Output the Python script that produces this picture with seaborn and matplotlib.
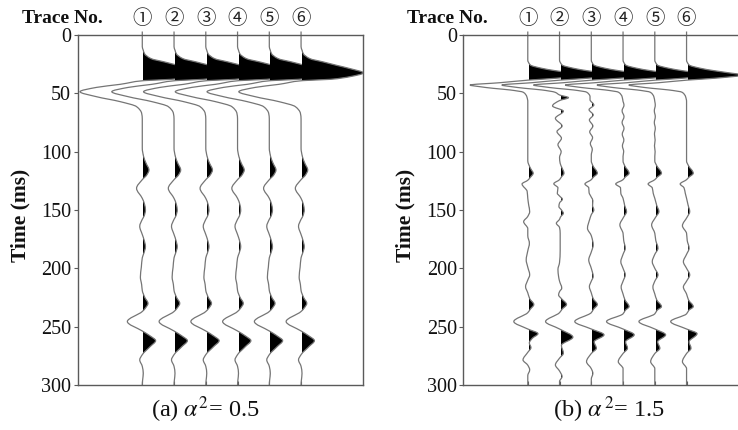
import numpy as np
import matplotlib
matplotlib.use("Agg")
import matplotlib.pyplot as plt
from matplotlib.path import Path
from matplotlib.patches import PathPatch, Rectangle
import seaborn as sns

# ------------------------------------------------------------------ data
trace_numbers = [1, 2, 3, 4, 5, 6]
trace_marks = ["①", "②", "③", "④", "⑤", "⑥"]
time_ticks = [0, 50, 100, 150, 200, 250, 300]
captions = [r"(a) $\alpha^2$= 0.5", r"(b) $\alpha^{\,2}$= 1.5"]

# (a) alpha^2 = 0.5 -- all six traces carry the same waveform
# picked samples: time in ms, amplitude in units of trace spacing
time_a = [-3, 10, 13, 16, 20.3, 23.1, 26, 28.8, 32.5, 35.7, 38, 39.1, 42.3, 44.9,
          48.6, 52.9, 57.1, 61.4, 67.1, 72,
          97, 104, 110, 115.7, 120, 124, 131.4, 140, 145, 150, 155, 158, 164, 171,
          176, 181.4, 187, 191, 199, 207.5, 214, 219, 225, 230, 234, 237, 245.6,
          253.7, 258, 262, 267, 274, 278.5, 284, 290, 296, 300]
amp_a = [0, 0, 0.03, 0.07, 0.28, 0.7, 1.12, 1.54, 1.96, 1.54, 0.92, 0.05, -0.7, -1.44,
         -1.96, -1.44, -0.7, -0.18, -0.02, 0,
         0, 0.04, 0.12, 0.21, 0.14, 0, -0.18, 0, 0.07, 0.1, 0.06, 0, -0.08, 0,
         0.06, 0.1, 0.05, 0, -0.03, -0.06, -0.02, 0, 0.08, 0.18, 0.1, 0, -0.47,
         0, 0.25, 0.42, 0.25, 0, -0.08, 0, 0.03, 0.01, 0]

# (b) alpha^2 = 1.5 -- common first arrival, then each trace's own picks
first_time_b = [-3, 21.4, 25.7, 28.6, 30.6, 32.3, 34.3, 37.1, 38.6, 40.9, 42.9, 44.3,
                45.7, 47.1, 49.1]
first_amp_b = [0, 0, 0.08, 0.45, 0.87, 1.3, 1.75, 0.87, 0.05, -0.88, -1.82, -1.51,
               -1.09, -0.56, -0.14]

time_b1 = [52.9, 57, 108, 111, 115, 118.5, 122, 124.5, 127.7, 134, 140, 146, 151.4,
           155.5, 160, 166, 172, 178.5, 185, 192.8, 199, 205.6, 210, 215.7, 221, 226,
           231, 235, 238, 245.6, 252, 256, 260, 264, 268, 272, 278.5, 283, 287, 292, 300]
amp_b1 = [-0.03, 0, 0, 0.03, 0.1, 0.17, 0.08, 0, -0.18, -0.02, 0, 0.03, 0.06,
          0, -0.13, 0, 0, 0.05, 0, -0.05, 0, 0.06, 0, -0.07, 0, 0.06,
          0.19, 0.08, 0, -0.44, 0, 0.32, 0.14, 0.05, 0.1, 0, -0.15, 0, 0.06, 0, 0]

time_b2 = [51.4, 53.7, 56.2, 60.8, 65.3, 71.4, 78, 82.8, 88.5, 94, 100, 105, 110, 114,
           118.5, 122, 124, 127.5, 131, 135.7, 138, 140.8, 144, 147, 150, 152.8, 156,
           158, 161.4, 165, 170, 185, 195, 201, 207, 211, 217, 220, 222.8, 226, 231,
           235, 238, 245.6, 252, 259, 266, 272.8, 277, 282.8, 288, 292.8, 297, 300]
amp_b2 = [0, 0.28, 0, -0.22, 0.12, -0.13, 0.08, -0.08, 0.06, -0.05, 0.05, 0, 0.02, 0.08,
          0.14, 0.05, 0, -0.18, -0.05, -0.07, 0, 0.09, 0, -0.02, 0.06, 0.12, 0.03,
          0, -0.1, 0, 0.02, 0.02, 0, -0.05, -0.03, 0, 0.07, 0, -0.03, 0.06, 0.22,
          0.08, 0, -0.44, 0, 0.42, 0.06, 0.12, 0, -0.13, 0, 0.08, 0, 0]

time_b3 = [52.9, 55.5, 60, 64, 68.5, 72.8, 78, 83, 88, 93, 98, 103, 108, 112, 118.5,
           122, 124, 127.7, 131, 135, 139, 142, 146, 150, 154, 158, 165.7, 172, 180,
           186, 192.8, 200, 207, 211, 215.7, 221, 226, 231, 235, 238, 245.6, 252, 257,
           263, 268.5, 273, 280, 286, 290, 295, 300]
amp_b3 = [-0.04, -0.04, 0.08, -0.07, 0.06, -0.06, 0.05, -0.05, 0.04, -0.03, 0.03, 0, 0, 0.05, 0.19,
          0.06, 0, -0.2, -0.08, -0.07, 0, 0.05, 0.04, 0.08, 0, -0.05, -0.12, 0, 0.06,
          0, -0.08, 0, 0.06, 0, -0.06, 0, 0.06, 0.19, 0.07, 0, -0.52, 0, 0.4,
          0.09, 0.16, 0, -0.15, 0, 0.05, 0, 0]

time_b4 = [52.9, 57, 60, 65, 70, 75, 80, 85, 90, 95, 100, 104, 108, 112, 118.5, 122,
           124, 127.7, 131, 135.7, 140, 146, 151.4, 156, 162.8, 170, 176, 182.8, 188,
           194.3, 200, 205.6, 211, 216, 222, 227, 232.8, 236, 239, 245.6, 252, 257,
           263, 268.5, 273, 280, 286, 300]
amp_b4 = [-0.03, 0, 0.03, -0.03, 0.03, -0.03, 0.03, -0.025, 0.025, -0.02, 0.02, 0, 0, 0.05, 0.19, 0.06,
          0, -0.23, -0.08, -0.07, 0, 0.05, 0.11, 0.02, -0.1, 0, 0.02, 0.07, 0,
          -0.07, 0, 0.07, 0, -0.06, 0, 0.06, 0.19, 0.07, 0, -0.52, 0, 0.35,
          0.08, 0.14, 0, -0.15, 0, 0]

time_b5 = [52.9, 57, 60, 65, 70, 75, 80, 85, 90, 95, 100, 104, 108, 112, 118.5, 122,
           124, 127.7, 131, 135.7, 140, 146, 151.4, 156, 162.8, 170, 176, 182.8, 188,
           194.3, 200, 205.6, 211, 216, 222, 227, 232.8, 236, 239, 245.6, 252, 257,
           263, 268.5, 273, 280, 286, 300]
amp_b5 = [-0.03, 0, 0.015, -0.015, 0.015, -0.015, 0.015, -0.01, 0.01, -0.01, 0.01, 0, 0, 0.06, 0.21, 0.07,
          0, -0.21, -0.08, -0.05, 0, 0.06, 0.13, 0.03, -0.1, 0, 0.03, 0.1, 0,
          -0.08, 0, 0.1, 0, -0.06, 0, 0.06, 0.21, 0.07, 0, -0.5, 0, 0.34,
          0.09, 0.16, 0, -0.13, 0, 0]

time_b6 = [52.9, 57, 108, 112, 118.5, 122, 124, 127.7, 131, 135.7, 140, 146, 151.4,
           156, 163.5, 170, 176, 182.8, 188, 194.3, 200, 205.6, 211, 216, 222, 227,
           232.8, 236, 239, 245.6, 252, 256, 263, 268.5, 273, 280, 286, 300]
amp_b6 = [-0.03, 0, 0, 0.06, 0.21, 0.07, 0, -0.2, -0.08, -0.04, 0, 0.05, 0.1,
          0.02, -0.13, 0, 0.02, 0.08, 0, -0.1, 0, 0.1, 0, -0.1, 0, 0.06,
          0.21, 0.07, 0, -0.5, 0, 0.33, 0.08, 0.14, 0, -0.13, 0, 0]

panel_a = [(time_a, amp_a)] * 6
panel_b = [(first_time_b + tb, first_amp_b + ab) for tb, ab in
           [(time_b1, amp_b1), (time_b2, amp_b2), (time_b3, amp_b3),
            (time_b4, amp_b4), (time_b5, amp_b5), (time_b6, amp_b6)]]

# ------------------------------------------------------------------ style
sns.set_theme(style="ticks")
plt.rcParams["font.family"] = ["Liberation Serif", "DejaVu Serif"]
plt.rcParams["mathtext.fontset"] = "stix"

LINE_COLOR = "#757575"
SPINE_COLOR = "#5a5a5a"


def wiggle_path(x0, t, a):
    """Smooth cubic path through the picked samples (monotone Hermite tangents)."""
    t = np.asarray(t, float)
    a = np.asarray(a, float)
    h = np.diff(t)
    d = np.diff(a) / h
    m = np.zeros_like(a)
    for i in range(1, len(a) - 1):
        if d[i - 1] * d[i] > 0:
            w1 = 2 * h[i] + h[i - 1]
            w2 = h[i] + 2 * h[i - 1]
            m[i] = (w1 + w2) / (w1 / d[i - 1] + w2 / d[i])
    verts = [(x0 + a[0], t[0])]
    codes = [Path.MOVETO]
    for i in range(len(h)):
        verts += [(x0 + a[i] + m[i] * h[i] / 3, t[i] + h[i] / 3),
                  (x0 + a[i + 1] - m[i + 1] * h[i] / 3, t[i + 1] - h[i] / 3),
                  (x0 + a[i + 1], t[i + 1])]
        codes += [Path.CURVE4] * 3
    return verts, codes


def draw_trace(ax, x0, t, a):
    verts, codes = wiggle_path(x0, t, a)
    # positive lobes filled black: area between curve and baseline, kept right of the baseline
    fill_path = Path(verts + [(x0, t[-1]), (x0, t[0]), (x0, t[0])],
                     codes + [Path.LINETO, Path.LINETO, Path.CLOSEPOLY])
    fill = PathPatch(fill_path, facecolor="black", edgecolor="none", lw=0)
    ax.add_patch(fill)
    fill.set_clip_path(Rectangle((x0 + 0.035, 0), 20, 300, transform=ax.transData))
    line = PathPatch(Path(verts, codes), fill=False, edgecolor=LINE_COLOR,
                     lw=0.9, clip_on=False)
    ax.add_patch(line)


W, H = 738, 430
fig = plt.figure(figsize=(W / 100, H / 100), dpi=100)
ax_w, ax_h = 285.8, 350
ax_a = fig.add_axes([77.5 / W, 1 - 385 / H, ax_w / W, ax_h / H])
ax_b = fig.add_axes([463 / W, 1 - 385 / H, ax_w / W, ax_h / H])

caption_x = [205, 609]
for ax, traces, cap, cx in zip([ax_a, ax_b], [panel_a, panel_b], captions, caption_x):
    for n, (t, a) in zip(trace_numbers, traces):
        draw_trace(ax, n, t, a)
    ax.set_xlim(-1.04, 7.96)
    ax.set_ylim(300, 0)
    ax.set_facecolor("white")
    ax.set_yticks(time_ticks)
    ax.set_yticklabels([str(v) for v in time_ticks])
    ax.set_xticks(trace_numbers)
    ax.set_xticklabels([])
    ax.tick_params(axis="y", direction="out", length=3, width=0.8, color=SPINE_COLOR,
                   labelsize=14.5, pad=1.5, labelcolor="#111")
    ax.tick_params(axis="x", direction="in", length=3, width=0.8, color=SPINE_COLOR,
                   bottom=True, top=False)
    for s in ax.spines.values():
        s.set_color(SPINE_COLOR)
        s.set_linewidth(1.0)
    ax.grid(False)

    ax.text(-15.5 / ax_w, 1 + 17 / ax_h, "Trace No.", transform=ax.transAxes,
            ha="center", va="center", fontsize=14, fontweight="bold", color="#111")
    for n, mark in zip(trace_numbers, trace_marks):
        ax.text(n, 1 + 16 / ax_h, mark, transform=ax.get_xaxis_transform(),
                ha="center", va="center", fontsize=14, color="#222",
                family=["Noto Sans CJK JP", "DejaVu Sans"])
    ax.text(-(77.5 - 20) / ax_w, 0.484, "Time (ms)", transform=ax.transAxes,
            rotation=90, ha="center", va="center", fontsize=15.5, fontweight="bold",
            color="#111")
    fig.text(cx / W, 1 - 410 / H, cap, ha="center", va="center", fontsize=17.5,
             color="#111")

sns.despine(ax=ax_b, top=False, right=True, left=False, bottom=False)

fig.savefig("out.png", dpi=100, facecolor="white")
